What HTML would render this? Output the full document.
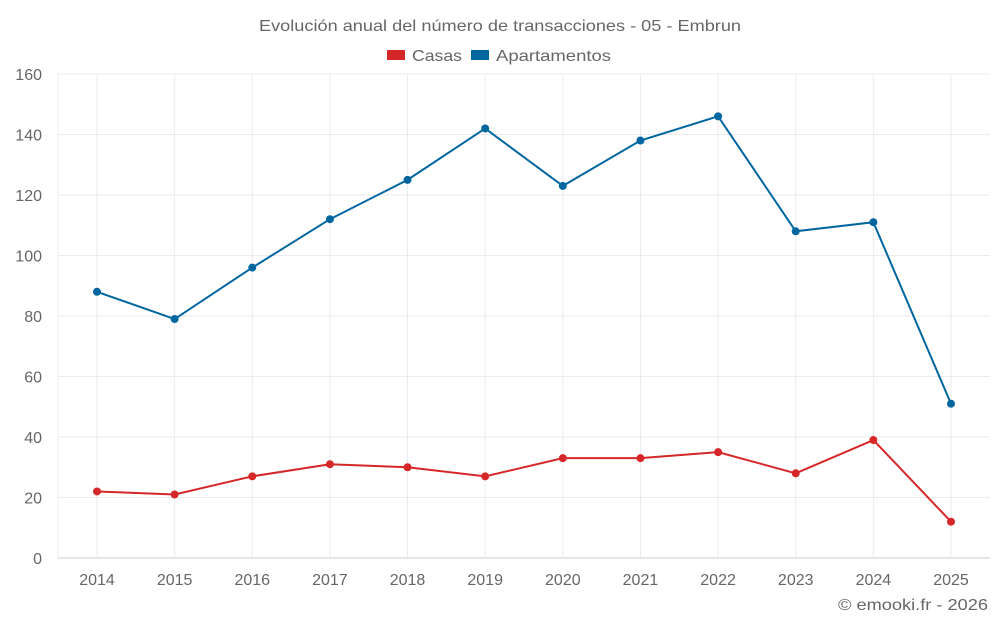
<!DOCTYPE html>
<html><head><meta charset="utf-8">
<style>
body{margin:0;background:#fff;font-family:"Liberation Sans",sans-serif;}
svg text{font-family:"Liberation Sans",sans-serif;fill:#666;}
</style></head>
<body>
<svg id="chart" width="1000" height="625">
<text x="259" y="31" textLength="482" lengthAdjust="spacingAndGlyphs" font-size="16">Evolución anual del número de transacciones - 05 - Embrun</text>
<g>
<rect x="387" y="50" width="18" height="10" fill="#d62728"/>
<text x="412" y="61" font-size="16" textLength="50" lengthAdjust="spacingAndGlyphs">Casas</text>
<rect x="471" y="50" width="18" height="10" fill="#0066a0"/>
<text x="496" y="61" font-size="16" textLength="115" lengthAdjust="spacingAndGlyphs">Apartamentos</text>
</g>
<g id="grid"></g><g id="axes"></g><g id="series"></g>
<text x="838" y="610" textLength="150" lengthAdjust="spacingAndGlyphs" font-size="16">© emooki.fr - 2026</text>
</svg>
<script>
const categories=[2014,2015,2016,2017,2018,2019,2020,2021,2022,2023,2024,2025];
const casas=[22,21,27,31,30,27,33,33,35,28,39,12];
const apartamentos=[88,79,96,112,125,142,123,138,146,108,111,51];
const yTicks=[0,20,40,60,80,100,120,140,160];
const NS="http://www.w3.org/2000/svg";
const L=58,R=990,T=74,B=558;
function x(i){return 97+i*(951-97)/(categories.length-1);}
function y(v){return B-(v/160)*(B-T);}
function mk(tag,attrs,parent){const e=document.createElementNS(NS,tag);for(const k in attrs)e.setAttribute(k,attrs[k]);parent.appendChild(e);return e;}
const grid=document.getElementById('grid'),axes=document.getElementById('axes'),ser=document.getElementById('series');
yTicks.forEach(t=>{
 const l=mk('line',{x1:L,x2:R,y1:y(t),y2:y(t),stroke:t===0?'#ccc':'#ebebeb'},grid);
 
 
 const tx=mk('text',{x:42,y:y(t)+6,'text-anchor':'end','font-size':16},axes);tx.textContent=t;
 
 
});
categories.forEach((c,i)=>{
 const l=mk('line',{x1:x(i),x2:x(i),y1:T,y2:B,stroke:'#ebebeb'},grid);
 
 
 const tx=mk('text',{x:x(i),y:585,'text-anchor':'middle','font-size':16},axes);tx.textContent=c;
 
 
});
const vl=mk('line',{x1:L,x2:L,y1:T,y2:B,stroke:'#ebebeb'},grid);


function draw(vals,color,name){
 const p=mk('polyline',{points:vals.map((v,i)=>x(i)+','+y(v)).join(' '),fill:'none',stroke:color,'stroke-width':2},ser);
 
 
 vals.forEach((v,i)=>{
  const c=mk('circle',{cx:x(i),cy:y(v),r:4,fill:color},ser);
  
  
 });
}
draw(apartamentos,'#0066a0','apartamentos');
draw(casas,'#d62728','casas');
</script>
</body></html>
